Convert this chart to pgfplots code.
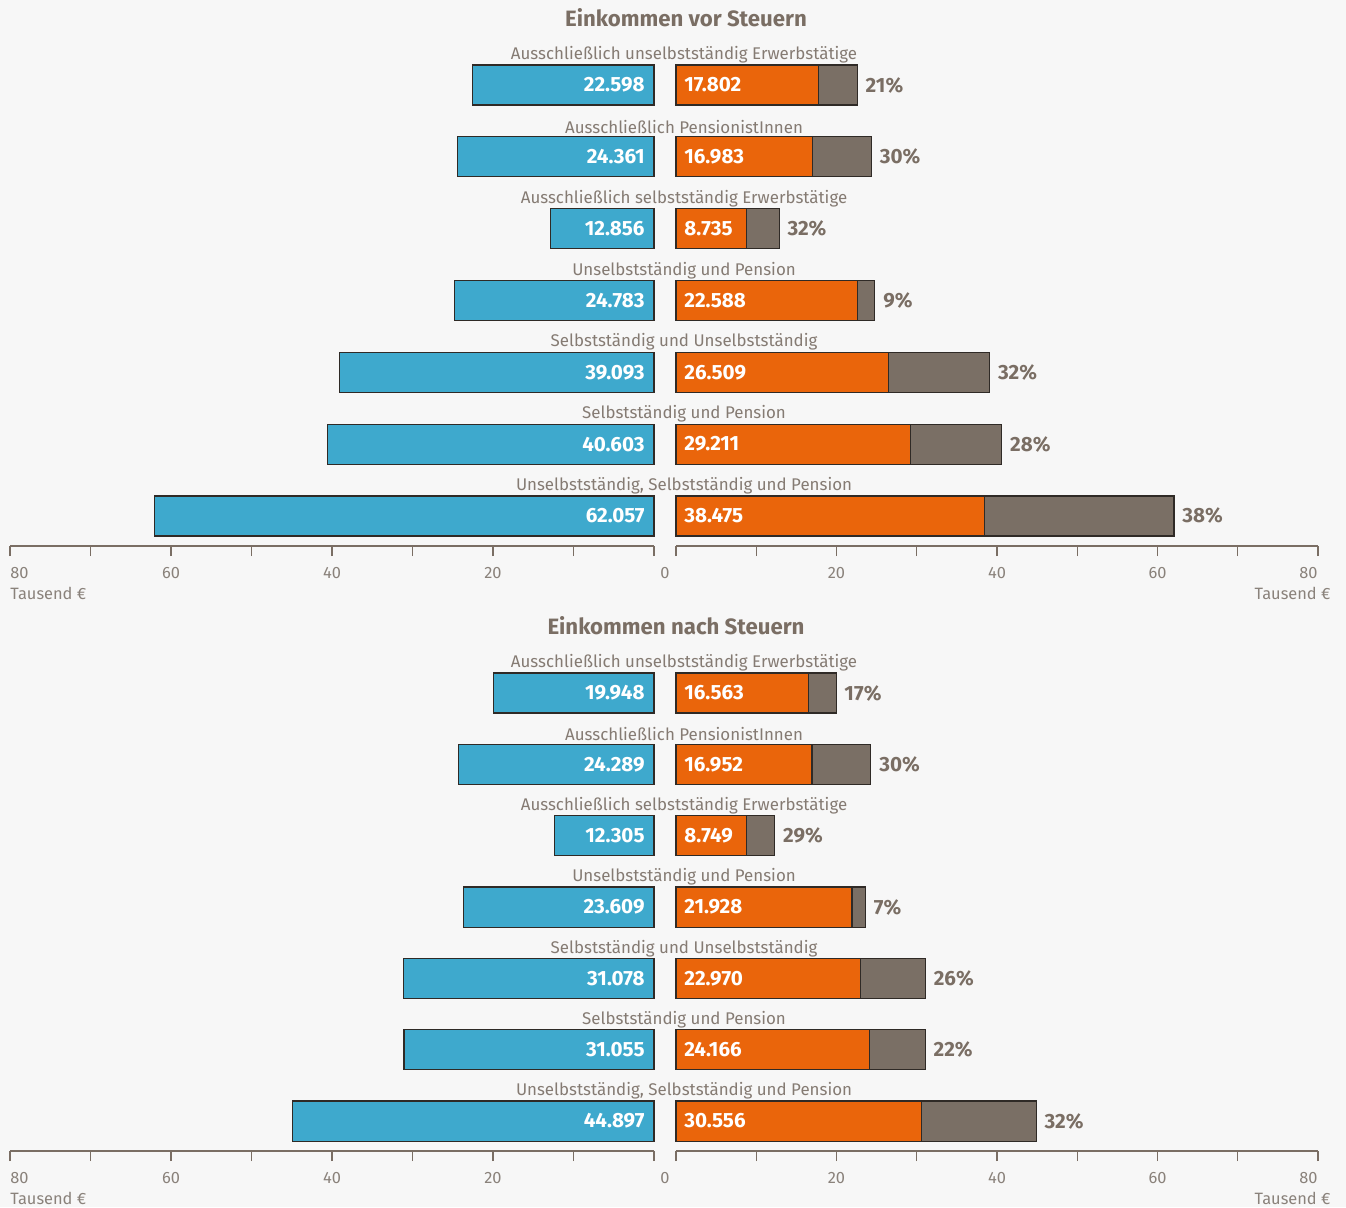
\documentclass[border=0pt]{standalone}
\usepackage{pgfplots}
\pgfplotsset{compat=1.18}
\usepackage{pgfplotstable}
\usepackage{fontspec}
\setmainfont{Fira Sans}
\definecolor{bg}{HTML}{F7F7F7}
\definecolor{cblue}{HTML}{3EA9CD}
\definecolor{corange}{HTML}{EA650B}
\definecolor{cgrey}{HTML}{7A6F65}
\definecolor{ctext}{HTML}{7A6E64}
\definecolor{clabel}{HTML}{857B73}
\definecolor{ctick}{HTML}{8A827B}
\definecolor{cborder}{HTML}{2F2A26}
\newcommand\valfont{\bfseries\fontsize{10.3}{12}\selectfont}
\newcommand\catfont{\fontsize{8.45}{10}\selectfont}
\newcommand\titlefont{\bfseries\fontsize{11.1}{13}\selectfont}
\newcommand\tickfont{\fontsize{8.2}{10}\selectfont}

\pgfplotstableread{
pos left orange pct
6 22.598 17.802 21
5 24.361 16.983 30
4 12.856 8.735 32
3 24.783 22.588 9
2 39.093 26.509 32
1 40.603 29.211 28
0 62.057 38.475 38
}\vor

\pgfplotstableread{
pos left orange pct
6 19.948 16.563 17
5 24.289 16.952 30
4 12.305 8.749 29
3 23.609 21.928 7
2 31.078 22.970 26
1 31.055 24.166 22
0 44.897 30.556 32
}\nach

\pgfplotsset{
  base/.style={scale only axis, xmin=0, xmax=80,
    axis x line=bottom, axis y line=none,
    axis line style={-, draw=ctext, line width=0.6pt},
    xtick={0,10,...,80}, xticklabels={}, tick align=outside,
    major tick length=5pt, tick style={draw=ctext, line width=0.6pt},
    ytick=\empty, clip=false},
  lbl/.style={draw=none, mark=none, nodes near coords, point meta=explicit symbolic},
}
\tikzset{tl/.style={anchor=north, inner sep=0pt, font=\tickfont, text=ctick}}

\newcommand{\panel}[7]{%
% #1 table, #2 axis line y, #3 height, #4 bar width, #5 ymin, #6 title, #7 title pos
\node[font=\titlefont, text=ctext] at #7 {#6};
\begin{axis}[base, at={(327pt,#2)}, anchor=south east, width=322pt, height=#3,
  x dir=reverse, ymin=#5, ymax=6.6]
  \addplot[xbar, bar width=#4, fill=cblue, draw=cborder, line width=0.55pt] table[x=left,y=pos]{#1};
  \addplot[lbl, every node near coord/.append style={anchor=east, xshift=-4.5pt, inner sep=0pt, text=white, font=\valfont}] table[x expr=0, y=pos, meta=left]{#1};
  \node[tl] at (axis cs:20,#5) [yshift=-10.5pt] {20};
  \node[tl] at (axis cs:40,#5) [yshift=-10.5pt] {40};
  \node[tl] at (axis cs:60,#5) [yshift=-10.5pt] {60};
  \node[tl, anchor=north west] at (axis cs:80,#5) [yshift=-10.5pt] {80};
  \node[tl, anchor=north west] at (axis cs:80,#5) [yshift=-20.3pt] {Tausend €};
  \node[tl] at (axis cs:-1.37,#5) [yshift=-10.5pt] {0};
\end{axis}
\begin{axis}[base, at={(338pt,#2)}, anchor=south west, width=321pt, height=#3,
  ymin=#5, ymax=6.6]
  \addplot[xbar, bar width=#4, fill=cgrey, draw=cborder, line width=0.55pt] table[x=left,y=pos]{#1};
  \addplot[xbar, bar width=#4, fill=corange, draw=cborder, line width=0.55pt] table[x=orange,y=pos]{#1};
  \addplot[lbl, every node near coord/.append style={anchor=west, xshift=4pt, inner sep=0pt, text=white, font=\valfont}] table[x expr=0, y=pos, meta=orange]{#1};
  \addplot[lbl, nodes near coords={\pgfplotspointmeta\%}, every node near coord/.append style={anchor=west, xshift=4pt, inner sep=0pt, text=ctext, font=\valfont}] table[x=left, y=pos, meta=pct]{#1};
  \node[tl] at (axis cs:20,#5) [yshift=-10.5pt] {20};
  \node[tl] at (axis cs:40,#5) [yshift=-10.5pt] {40};
  \node[tl] at (axis cs:60,#5) [yshift=-10.5pt] {60};
  \node[tl, anchor=north east] at (axis cs:80,#5) [yshift=-10.5pt] {80};
  \node[tl, anchor=north east] at (axis cs:80,#5) [yshift=-20.3pt, xshift=6.5pt] {Tausend €};
  \node[font=\catfont, text=clabel] at (axis cs:1,6.42) {Ausschließlich unselbstständig Erwerbstätige};
  \node[font=\catfont, text=clabel] at (axis cs:1,5.42) {Ausschließlich PensionistInnen};
  \node[font=\catfont, text=clabel] at (axis cs:1,4.42) {Ausschließlich selbstständig Erwerbstätige};
  \node[font=\catfont, text=clabel] at (axis cs:1,3.42) {Unselbstständig und Pension};
  \node[font=\catfont, text=clabel] at (axis cs:1,2.42) {Selbstständig und Unselbstständig};
  \node[font=\catfont, text=clabel] at (axis cs:1,1.42) {Selbstständig und Pension};
  \node[font=\catfont, text=clabel] at (axis cs:1,0.42) {Unselbstständig, Selbstständig und Pension};
\end{axis}
}

\begin{document}
\begin{tikzpicture}
\path[fill=bg] (0,0) rectangle (673pt,-603.5pt);
\panel{\vor}{-273pt}{252.05pt}{0.557}{-0.418}{Einkommen vor Steuern}{(343pt,-9pt)}
\panel{\nach}{-575.5pt}{250.4pt}{0.561}{-0.42}{Einkommen nach Steuern}{(338pt,-313pt)}
\end{tikzpicture}
\end{document}
